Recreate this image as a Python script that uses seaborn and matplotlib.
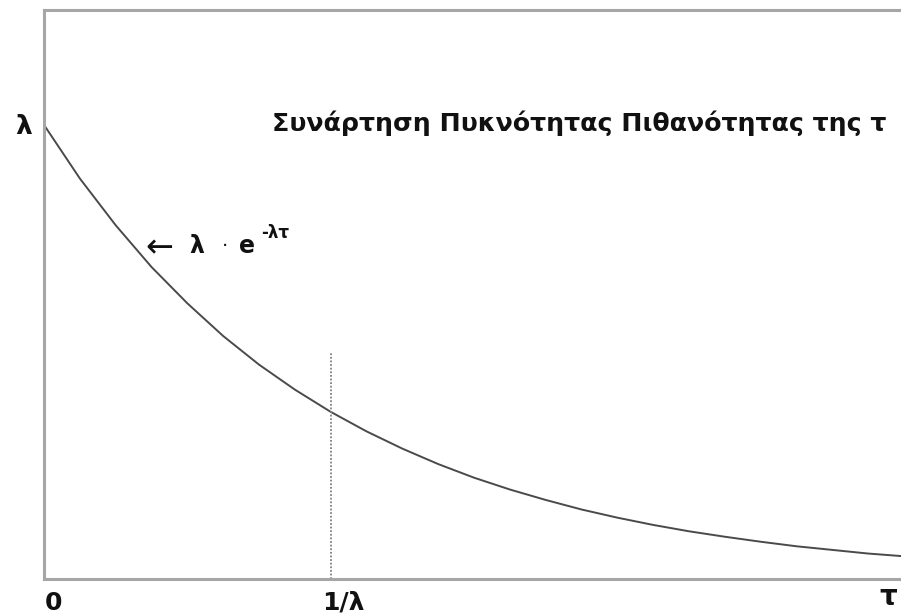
import matplotlib
matplotlib.use("Agg")
import matplotlib.pyplot as plt
import matplotlib.transforms as mtransforms
import seaborn as sns
import pandas as pd

# Values (tau in units of 1/lambda, density in units of lambda)
tau = [0.0, 0.125, 0.25, 0.375, 0.5, 0.625, 0.75, 0.875, 1.0, 1.125, 1.25, 1.375,
       1.5, 1.625, 1.75, 1.875, 2.0, 2.125, 2.25, 2.375, 2.5, 2.625, 2.75, 2.875, 3.0]
density = [1.0, 0.882, 0.779, 0.687, 0.607, 0.535, 0.472, 0.417, 0.368, 0.325, 0.287, 0.253,
           0.223, 0.197, 0.174, 0.153, 0.135, 0.119, 0.105, 0.093, 0.082, 0.072, 0.064, 0.056, 0.050]
tick_positions = [0.0, 1.0]
tick_labels = ["0", "1/λ"]
mean_line_x = 1.0
mean_line_top = 0.50

df = pd.DataFrame({"tau": tau, "density": density})

sns.set_style("white")
plt.rcParams["font.family"] = ["DejaVu Sans"]

W, H = 901, 616
fig = plt.figure(figsize=(W / 100, H / 100), dpi=100)
ax = fig.add_axes([44 / W, 1 - 579 / H, 1 - 44 / W + 0.01, (579 - 10) / H])

sns.lineplot(data=df, x="tau", y="density", ax=ax, color="#4a4a4a", linewidth=1.4)
ax.plot([mean_line_x, mean_line_x], [0, mean_line_top], color="#808080",
        linestyle=(0, (1, 1)), linewidth=1.3)

ax.set_xlim(0, 3.02)
ax.set_ylim(0, 1.253)
ax.set_xlabel("")
ax.set_ylabel("")
ax.set_yticks([])
ax.set_xticks([])

for side in ["left", "bottom", "top"]:
    ax.spines[side].set_color("#a6a6a6")
    ax.spines[side].set_linewidth(2.2)
ax.spines["right"].set_visible(False)

# tick labels tied to the data x positions
offsets_px = [1, -9]
for pos, lab, off in zip(tick_positions, tick_labels, offsets_px):
    tr = mtransforms.blended_transform_factory(ax.transData, fig.transFigure) + \
        mtransforms.ScaledTranslation(off / 100, 0, fig.dpi_scale_trans)
    ax.text(pos, 1 - 610 / H, lab, transform=tr, fontsize=18, fontweight="bold",
            ha="left", va="baseline", color="#111111")

fig.text(15 / W, 1 - 134 / H, "λ", fontsize=19, fontweight="bold", ha="left", va="baseline",
         color="#111111")
fig.text(897 / W, 1 - 605 / H, "τ", fontsize=20, fontweight="bold", ha="right", va="baseline",
         color="#111111")
fig.text(272 / W, 1 - 131 / H, "Συνάρτηση Πυκνότητας Πιθανότητας της τ",
         fontsize=18.2, fontweight="bold", ha="left", va="baseline", color="#111111")

# annotation  ← λ · e^{-λτ}
fig.text(145 / W, 1 - 257 / H, "←", fontsize=24, ha="left", va="baseline", color="#111111")
fig.text(189 / W, 1 - 253 / H, "λ", fontsize=17, fontweight="bold", ha="left", va="baseline",
         color="#111111")
fig.text(225 / W, 1 - 247 / H, "·", fontsize=14, ha="center", va="center", color="#111111")
fig.text(239 / W, 1 - 253 / H, "e", fontsize=17, fontweight="bold", ha="left", va="baseline",
         color="#111111")
fig.text(261 / W, 1 - 238 / H, "-λτ", fontsize=12, fontweight="bold", ha="left", va="baseline",
         color="#111111")

fig.savefig("out.png", dpi=100)
